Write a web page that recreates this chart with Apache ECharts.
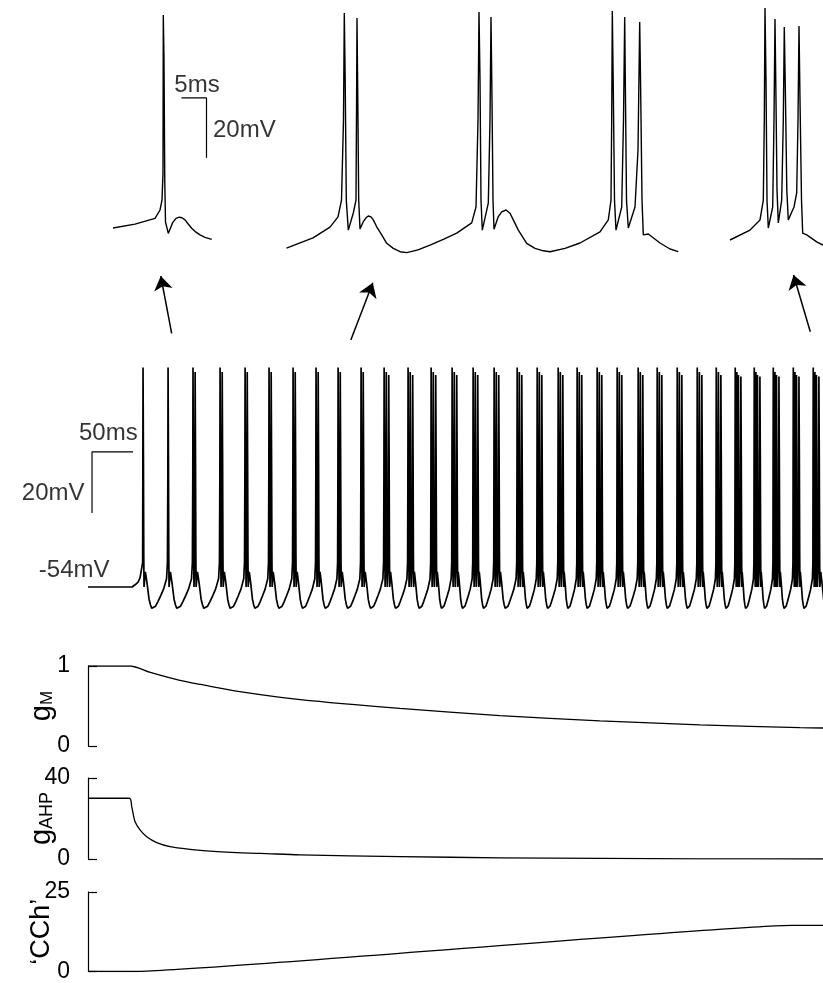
<!DOCTYPE html>
<html><head><meta charset="utf-8">
<script src="https://cdn.jsdelivr.net/npm/echarts@6/dist/echarts.min.js"></script>
<style>html,body{margin:0;padding:0;background:#fff}#c{width:823px;height:983px}</style>
</head><body><div id="c"></div>
<script>
// ================= DATA =================
// Main trace: time of first spike of each burst (ms) and spikes per burst
const burstTimes = [67.1, 97.6, 128.0, 161.0, 191.5, 220.7, 250.0, 278.0, 304.9, 332.9,
  361.0, 390.2, 418.3, 443.9, 469.5, 495.1, 523.2, 547.6, 573.2, 596.3,
  620.7, 645.1, 670.7, 693.9, 718.3, 742.7, 765.9, 789.0, 812.2, 835.4, 859.8, 884.1];
const spikesPerBurst = [1, 1, 2, 2, 2, 2, 2, 2, 2, 2,
  3, 3, 3, 3, 3, 3, 3, 3, 3, 3,
  3, 3, 3, 3, 3, 3, 3, 4, 4, 4, 4, 4];
// intra-burst inter-spike intervals (ms), from the insets
const intraGaps2 = [2.6];
const intraGaps3 = [2.6, 3.0];
const intraGaps4 = [2.0, 1.9, 3.0];
// spike peak (mV) by order within a burst
const spikePeakByOrder = [18, 16.5, 15.5, 15];
// single spike shape: offsets (ms) and voltages (mV); null = peak
const spikeShapeDt = [-0.25, 0, 0.45, 0.9, 1.2];
const spikeShapeV = [-17, null, -10, -44, -54];
const spikePreDt = -0.5, spikePreV = -46;
// inter-burst waveform: fraction of gap (last spike -> next burst) and voltage
const gapFrac = [0.094, 0.16, 0.24, 0.295, 0.35, 0.41, 0.50, 0.60, 0.707, 0.82, 0.94, 0.975];
const gapV = [-49, -52.7, -58, -59.8, -61, -61.2, -60.3, -58.7, -56.8, -54.7, -51.3, -46];
const tailGap = 24; // ms, to the next (unseen) burst
// resting part before the first spike
const preStimT = [0, 53.7, 57.8, 61.0, 63.4, 66.6];
const preStimV = [-54, -54, -53.2, -52.4, -51, -46];
const traceEndMs = 896;

// Insets (time in ms at 5 px/ms, voltage in mV)
const inset1 = [[22.6,-53],[27.0,-51.7],[31.0,-49.8],[32.0,-47],[32.4,-43.7],[32.6,-34.7],[32.66,18],[32.8,3],[32.95,-37],[33.1,-51],[33.66,-54.8],[34.54,-51.2],[35.2,-49.8],[35.86,-49.4],[36.4,-49.6],[37.0,-50.3],[37.6,-51.6],[38.34,-53.1],[39.2,-54.4],[40.0,-55.3],[41.0,-56.1],[42.34,-56.8]];
const inset2 = [[57.3,-59.7],[62.6,-56.3],[66.0,-52.7],[67.6,-49.3],[68.3,-43.7],[68.7,-17],[68.86,18.7],[69.04,-3.7],[69.26,-43.7],[69.66,-53.7],[70.66,-48],[71.2,-43.7],[71.32,-10.3],[71.4,17],[71.56,-10.3],[71.74,-43.7],[72.0,-53.3],[72.66,-50.9],[73.2,-49.6],[73.66,-49],[74.2,-49.3],[74.66,-50.3],[75.34,-52.6],[76.34,-55.3],[77.34,-58.1],[78.66,-59.8],[80.0,-60.9],[81.34,-61.2],[83.6,-60.3],[86.0,-58.7],[88.66,-56.8],[91.34,-54.7],[94.34,-51.3],[95.2,-46],[95.6,-17],[95.8,19],[96.0,-3.7],[96.2,-43.7],[96.46,-53.7],[97.66,-44.7],[98.0,-17],[98.2,17.3],[98.4,-10.3],[98.6,-43.7],[98.8,-53.4],[99.66,-49.2],[100.34,-47.6],[101.2,-47],[102.0,-48.1],[102.66,-50.3],[103.66,-53.7],[105.34,-58.1],[107.0,-59.8],[108.66,-60.6],[110.0,-60.9],[113.0,-59.8],[116.0,-58],[120.0,-54.3],[121.66,-50.3],[122.2,-43.7],[122.34,-17],[122.46,19.3],[122.64,-3.7],[122.9,-43.7],[123.2,-53.7],[124.34,-46],[124.7,-17],[124.94,17.3],[125.1,-10.3],[125.3,-43.7],[125.66,-53],[127.0,-46],[127.6,-27],[127.94,15.7],[128.16,-10.3],[128.4,-43.7],[128.66,-55.3],[129.66,-55],[132.0,-58],[134.0,-60],[135.66,-60.9]];
const inset3 = [[146,-57],[150,-53.7],[152,-50.3],[152.66,-43.7],[152.86,-17],[153,20.3],[153.2,-3.7],[153.4,-43.7],[153.66,-53],[154.54,-46],[154.8,-17],[155,16.7],[155.2,-10.3],[155.4,-40.3],[155.66,-51.3],[156.34,-43.7],[156.66,-17],[156.86,14],[157.1,-10.3],[157.36,-40.3],[157.66,-50.3],[158.8,-46],[159.34,-41.3],[159.6,-17],[159.8,14.3],[160,-10.3],[160.3,-43.7],[160.54,-54.7],[161.34,-55.3],[163.34,-57.6],[164.6,-58.7],[166,-59.7]];

// Conductance / CCh traces (time ms, value)
const gmT = [0, 51, 76, 112, 137, 185, 259, 380, 502, 624, 746, 868, 896];
const gmV = [1, 1, 0.92, 0.82, 0.77, 0.68, 0.58, 0.47, 0.38, 0.315, 0.265, 0.23, 0.225];
const gahpT = [0, 50.4, 53.3, 57.3, 63.4, 71.6, 83.8, 100, 124.4, 152.8, 181.3, 209.8, 258.5, 380.5, 502.4, 624.4, 746.3, 896];
const gahpV = [30, 30, 25.9, 18.5, 14.4, 11, 8.1, 6.1, 4.8, 3.8, 3.1, 2.8, 2.0, 1.2, 0.6, 0.3, 0.1, 0];
const cchT = [0, 57, 858, 896];
const cchV = [0, 0, 14.5, 14.5];

// Scale bars
const mainBarOrigin = [4.9, -9.7], mainBarMs = 50, mainBarMv = 20;
const insetBarCorner = [41.3, -9.6], insetBarMs = 5, insetBarMv = 20;

// Arrows (main time axis, ms; vertical in arrow-panel units 0..1)
const arrowFromT = [102, 320.4, 880.5];
const arrowFromY = [0.156, 0.067, 0.177];
const arrowToT = [88.7, 347.2, 860.1];
const arrowToY = [0.92, 0.83, 0.933];

// ================= BUILD =================
const FONT = "'Liberation Sans', Arial, Helvetica, sans-serif";
const INK = '#000';

function buildTrace() {
  const pts = [];
  for (let i = 0; i < preStimT.length; i++) pts.push([preStimT[i], preStimV[i]]);
  for (let b = 0; b < burstTimes.length; b++) {
    const n = spikesPerBurst[b];
    const gaps = n === 2 ? intraGaps2 : n === 3 ? intraGaps3 : n === 4 ? intraGaps4 : [];
    let t = burstTimes[b];
    const st = [t];
    gaps.forEach(g => { t += g; st.push(t); });
    st.forEach((ts, k) => {
      if (k > 0) pts.push([ts + spikePreDt, spikePreV]);
      spikeShapeDt.forEach((d, j) => pts.push([ts + d, spikeShapeV[j] === null ? spikePeakByOrder[k] : spikeShapeV[j]]));
    });
    const last = st[st.length - 1];
    const next = b + 1 < burstTimes.length ? burstTimes[b + 1] : last + tailGap;
    const gap = next - last;
    gapFrac.forEach((f, j) => pts.push([last + f * gap, gapV[j]]));
  }
  return pts;
}
const zip = (a, b) => a.map((x, i) => [x, b[i]]);

const grids = [
  { left: 0, top: 0, width: 823, height: 270 },          // insets
  { left: 88, top: 270, width: 735, height: 75 },         // arrows
  { left: 88, top: 361.3, width: 735, height: 259.25 },   // main trace
  { left: 88, top: 666, width: 735, height: 80 },         // gM
  { left: 88, top: 778, width: 735, height: 81 },         // gAHP
  { left: 88, top: 892, width: 735, height: 80 }          // CCh
];
const hiddenX = (gi, max) => ({ type: 'value', gridIndex: gi, min: 0, max: max, show: false });
const hiddenY = (gi, min, max) => ({ type: 'value', gridIndex: gi, min: min, max: max, show: false });
function panelY(gi, max, nameRich, gap, subSize) {
  return {
    type: 'value', gridIndex: gi, min: 0, max: max, interval: max,
    axisLine: { show: true, lineStyle: { color: INK, width: 1.2 } },
    axisTick: { show: true, inside: true, length: 9, lineStyle: { color: INK, width: 1.2 } },
    axisLabel: { show: true, color: INK, fontSize: 23, fontFamily: FONT, margin: 18 },
    splitLine: { show: false },
    name: nameRich, nameLocation: 'middle', nameRotate: 90, nameGap: gap, nameMoveOverlap: false,
    nameTextStyle: {
      color: INK, fontFamily: FONT, fontSize: 24,
      rich: {
        g: { fontSize: 29, fontFamily: FONT, color: INK, lineHeight: 30, verticalAlign: 'bottom' },
        s: { fontSize: subSize || 16, fontFamily: FONT, color: INK, lineHeight: 15, verticalAlign: 'bottom' },
        c: { fontSize: 27, fontFamily: FONT, color: INK, lineHeight: 28 }
      }
    }
  };
}
const lbl = (pos, text, pt, dist, size) => ({
  value: pt,
  label: { show: true, position: pos, distance: dist, formatter: text, color: INK, fontSize: size || 24, fontFamily: FONT }
});

const option = {
  animation: false,
  backgroundColor: '#fff',
  grid: grids,
  xAxis: [hiddenX(0, 164.6), hiddenX(1, traceEndMs), hiddenX(2, traceEndMs), hiddenX(3, traceEndMs), hiddenX(4, traceEndMs), hiddenX(5, traceEndMs)],
  yAxis: [
    hiddenY(0, -67, 23),
    hiddenY(1, 0, 1),
    hiddenY(2, -65, 20),
    panelY(3, 1, '{g|g}{s|M}', 32, 17),
    panelY(4, 40, '{g|g}{s|AHP}', 32, 18),
    panelY(5, 25, '{c|\u2018CCh\u2019}', 32)
  ],
  series: [
    // insets
    ...[inset1, inset2, inset3].map(d => ({
      type: 'line', xAxisIndex: 0, yAxisIndex: 0, data: d, showSymbol: false, symbol: 'none',
      lineStyle: { color: INK, width: 1.4 }
    })),
    { type: 'line', xAxisIndex: 0, yAxisIndex: 0, symbol: 'none',
      data: [[insetBarCorner[0] - insetBarMs, insetBarCorner[1]], insetBarCorner, [insetBarCorner[0], insetBarCorner[1] - insetBarMv]],
      lineStyle: { color: INK, width: 1.2 } },
    { type: 'scatter', xAxisIndex: 0, yAxisIndex: 0, symbolSize: 1, itemStyle: { color: 'rgba(0,0,0,0)' }, clip: false,
      data: [lbl('top', '5ms', [39.4, -9.6], 0), lbl('right', '20mV', [41.3, -20.3], 6)] },
    // arrows
    { type: 'lines', coordinateSystem: 'cartesian2d', xAxisIndex: 1, yAxisIndex: 1,
      symbol: ['none', 'arrow'], symbolSize: 14,
      lineStyle: { color: INK, width: 1.5, opacity: 1 },
      data: arrowFromT.map((t, i) => ({ coords: [[t, arrowFromY[i]], [arrowToT[i], arrowToY[i]]] })) },
    // main trace
    { type: 'line', xAxisIndex: 2, yAxisIndex: 2, data: buildTrace(), symbol: 'none',
      lineStyle: { color: INK, width: 1.7 } },
    { type: 'line', xAxisIndex: 2, yAxisIndex: 2, symbol: 'none',
      data: [[mainBarOrigin[0] + mainBarMs, mainBarOrigin[1]], mainBarOrigin, [mainBarOrigin[0], mainBarOrigin[1] - mainBarMv]],
      lineStyle: { color: INK, width: 1.2 } },
    { type: 'scatter', xAxisIndex: 2, yAxisIndex: 2, symbolSize: 1, itemStyle: { color: 'rgba(0,0,0,0)' }, clip: false,
      data: [lbl('top', '50ms', [24.8, -9.7], 6), lbl('left', '20mV', [4.9, -23.2], 7), lbl('left', '-54mV', [26.8, -48.4], 0)] },
    // panels
    { type: 'line', xAxisIndex: 3, yAxisIndex: 3, data: zip(gmT, gmV), symbol: 'none', smooth: 0.3, lineStyle: { color: INK, width: 1.3 } },
    { type: 'line', xAxisIndex: 4, yAxisIndex: 4, data: zip(gahpT, gahpV), symbol: 'none', smooth: 0.3, lineStyle: { color: INK, width: 1.3 } },
    { type: 'line', xAxisIndex: 5, yAxisIndex: 5, data: zip(cchT, cchV), symbol: 'none', smooth: 0.1, lineStyle: { color: INK, width: 1.3 } }
  ]
};
const chart = echarts.init(document.getElementById('c'), null, { renderer: 'canvas' });
chart.setOption(option);
</script>
</body></html>
